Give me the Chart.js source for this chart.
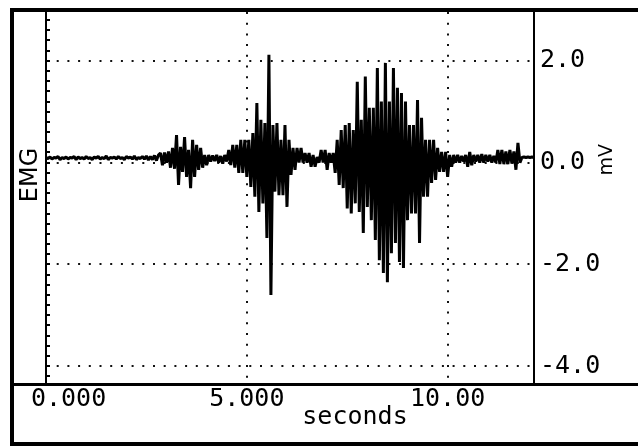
<!DOCTYPE html>
<html>
<head>
<meta charset="utf-8">
<script src="https://cdn.jsdelivr.net/npm/chart.js@4.4.1/dist/chart.umd.min.js"></script>
<style>
  html, body { margin: 0; padding: 0; background: #fff; }
  canvas { display: block; }
</style>
</head>
<body>
<canvas id="emgChart" width="638" height="448"></canvas>
<script>
// EMG trace, one sample every 0.05 s from 0 s (mV)
const sampleStep = 0.05;
const emgMv = [
  // resting baseline 0 - 2.8 s
  0.1, 0.08, 0.11, 0.07, 0.1, 0.09, 0.12, 0.06, 0.1, 0.08,
  0.11, 0.07, 0.1, 0.09, 0.12, 0.06, 0.11, 0.08, 0.1, 0.07,
  0.12, 0.08, 0.1, 0.06, 0.11, 0.09, 0.12, 0.07, 0.1, 0.08,
  0.13, 0.06, 0.1, 0.09, 0.11, 0.07, 0.12, 0.08, 0.1, 0.06,
  0.12, 0.09, 0.11, 0.07, 0.13, 0.06, 0.1, 0.08, 0.12, 0.07,
  0.13, 0.05, 0.12, 0.06, 0.14, 0.04, 0.15,
  // first burst
  0.19, -0.05, 0.2, 0.0, 0.22, -0.1, 0.29, -0.12, 0.54, -0.44,
  0.31, -0.18, 0.5, -0.28, 0.25, -0.5, 0.45, -0.28, 0.35, -0.14,
  0.29, -0.1, 0.15, -0.05,
  0.15, 0.02, 0.14, 0.03, 0.15, 0.0, 0.13, -0.02, 0.15, 0.02,
  // second burst
  0.25, -0.05, 0.35, -0.1, 0.35, -0.2, 0.45, -0.2, 0.45, -0.28,
  0.45, -0.48, 0.58, -0.67, 1.17, -0.97, 0.84, -0.8, 0.78, -1.48,
  2.12, -2.6, 0.74, -0.57, 0.78, -0.64, 0.45, -0.64, 0.74, -0.87,
  0.45, -0.24, 0.29, -0.14, 0.29,
  0.0, 0.29, 0.0, 0.19, 0.0, 0.19, -0.08, 0.15, -0.08, 0.11,
  0.0, 0.25, 0.0, 0.25, -0.14, 0.19, 0.0, 0.19,
  // third (largest) burst
  -0.2, 0.45, -0.44, 0.64, -0.5, 0.74, -0.9, 0.78, -1.0, 0.64,
  -0.8, 1.59, -0.97, 0.84, -1.38, 1.69, -0.87, 1.08, -1.13, 1.08,
  -1.52, 1.86, -1.92, 1.2, -2.17, 1.96, -2.35, 1.2, -1.78, 1.86,
  -1.58, 1.47, -1.95, 1.37, -2.07, 1.2, -1.13, 0.74, -1.0, 0.74,
  -1.0, 1.23, -1.58, 0.88, -0.67, 0.45, -0.67, 0.45, -0.4, 0.45,
  -0.34, 0.29, -0.18, 0.21, -0.18, 0.21, -0.28, 0.15, -0.08,
  // tail
  0.15, 0.0, 0.15, 0.0, 0.13, 0.02, 0.15, -0.08, 0.21, -0.05,
  0.15, 0.02, 0.15, 0.0, 0.17, 0.0, 0.15, 0.02, 0.15, 0.0,
  0.13, 0.0, 0.25, -0.03, 0.25, -0.03, 0.22, -0.03, 0.25, -0.02,
  0.22, -0.14, 0.39, 0.0, 0.1, 0.11, 0.1, 0.11, 0.1, 0.11, 0.1
];

const xRange = [0, 12.15];
const yRange = [-4.35, 2.96];
const xTicks = [0, 5, 10];
const xTickLabels = ['0.000', '5.000', '10.00'];
const yTicks = [-4, -2, 0, 2];
const yTickLabels = ['-4.0', '-2.0', '0.0', '2.0'];

const monoFont = '"DejaVu Sans Mono", monospace';

const points = emgMv.map((v, i) => ({ x: +(i * sampleStep).toFixed(2), y: v }));

// box, axis lines, minor ticks and the free-standing labels
const framePlugin = {
  id: 'frame',
  afterDraw(chart) {
    const ctx = chart.ctx;
    const a = chart.chartArea;
    const y = chart.scales.y;
    ctx.save();
    ctx.fillStyle = '#000';
    ctx.fillRect(10, 8, 4, 438);
    ctx.fillRect(10, 8, 628, 4);
    ctx.fillRect(10, 442, 628, 4);
    ctx.fillRect(12, a.bottom - 1, 626, 3);
    ctx.fillRect(a.left - 1, a.top, 2, a.bottom - a.top);
    ctx.fillRect(a.right - 1, a.top, 2, a.bottom - a.top);

    // minor ticks every 0.2 mV on the left axis
    for (let k = -21; k <= 14; k++) {
      const py = Math.round(y.getPixelForValue(k * 0.2));
      ctx.fillRect(a.left, py - 1, 4, 2);
    }

    ctx.textAlign = 'center';
    ctx.textBaseline = 'middle';
    ctx.font = '25px ' + monoFont;
    ctx.fillText('seconds', 355, 417);

    ctx.save();
    ctx.translate(31, 175);
    ctx.rotate(-Math.PI / 2);
    ctx.font = '24px "DejaVu Sans"';
    ctx.fillText('EMG', 0, 0);
    ctx.restore();

    ctx.save();
    ctx.translate(607, y.getPixelForValue(0) - 3);
    ctx.rotate(-Math.PI / 2);
    ctx.font = '19px "DejaVu Sans"';
    ctx.fillText('mV', 0, 0);
    ctx.restore();

    ctx.restore();
  }
};

new Chart(document.getElementById('emgChart'), {
  type: 'line',
  data: {
    datasets: [{
      data: points,
      borderColor: '#000',
      borderWidth: 3,
      borderJoinStyle: 'bevel',
      pointRadius: 0,
      tension: 0,
      fill: false
    }]
  },
  options: {
    responsive: false,
    animation: false,
    devicePixelRatio: 1,
    layout: { padding: { left: 46, top: 12, right: 0, bottom: 0 } },
    plugins: {
      legend: { display: false },
      tooltip: { enabled: false }
    },
    scales: {
      x: {
        type: 'linear',
        position: 'bottom',
        min: xRange[0],
        max: xRange[1],
        afterBuildTicks: s => { s.ticks = xTicks.map(v => ({ value: v })); },
        afterFit: s => { s.height = 64; s.paddingLeft = 0; s.paddingRight = 0; },
        ticks: {
          autoSkip: false,
          maxRotation: 0,
          padding: 0,
          color: '#000',
          font: { family: monoFont, size: 25 },
          callback: v => {
            const k = xTicks.indexOf(v);
            // first label sits clear of the frame
            return k === 0 ? '   ' + xTickLabels[k] : xTickLabels[k];
          }
        },
        grid: {
          drawTicks: false,
          lineWidth: 2,
          color: c => (c.tick && c.tick.value === 0) ? 'rgba(0,0,0,0)' : '#111'
        },
        border: { display: false, dash: [2, 8.7] }
      },
      y: {
        type: 'linear',
        position: 'right',
        min: yRange[0],
        max: yRange[1],
        afterBuildTicks: s => { s.ticks = yTicks.map(v => ({ value: v })); },
        afterFit: s => { s.width = 104; s.paddingTop = 0; s.paddingBottom = 0; },
        ticks: {
          padding: 6,
          color: '#000',
          font: { family: monoFont, size: 25 },
          callback: v => yTickLabels[yTicks.indexOf(v)]
        },
        grid: {
          drawTicks: false,
          lineWidth: 2,
          color: '#111'
        },
        border: { display: false, dash: [2, 8.7] }
      }
    }
  },
  plugins: [framePlugin]
});
</script>
</body>
</html>
